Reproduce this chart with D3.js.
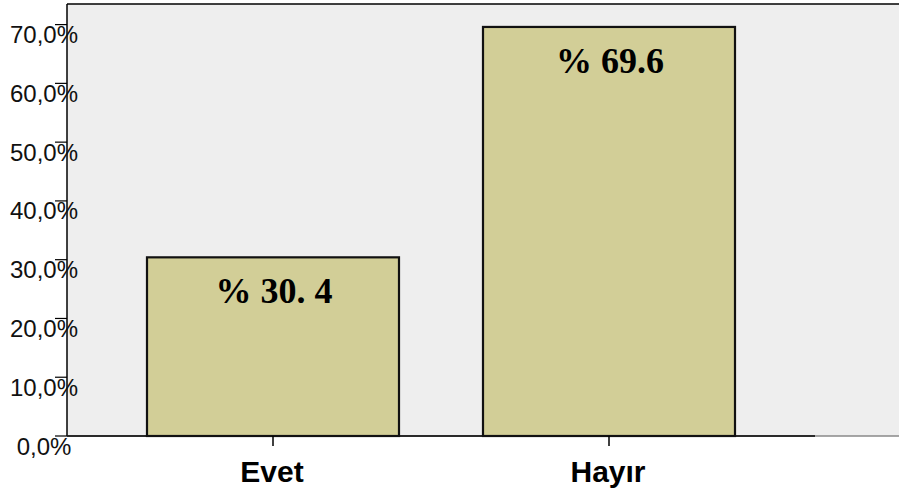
<!DOCTYPE html>
<html>
<head>
<meta charset="utf-8">
<script src="https://cdnjs.cloudflare.com/ajax/libs/d3/7.8.5/d3.min.js"></script>
<style>
body { margin: 0; background: #fff; }
</style>
</head>
<body>
<div id="viz"></div>
<script>
var categories = ["Evet", "Hayır"];
var values = [30.4, 69.6];
var barLabels = ["% 30. 4", "% 69.6"];
var yTicks = [0, 10, 20, 30, 40, 50, 60, 70];

var width = 899, height = 491;
var plotLeft = 67, plotTop = 4, plotBottom = 436;

var svg = d3.select("#viz")
    .append("svg")
    .attr("width", width)
    .attr("height", height);

var x = d3.scaleBand()
    .domain(categories)
    .range([105, 777])
    .paddingInner(0.25)
    .paddingOuter(0.125);

var y = d3.scaleLinear()
    .domain([0, 70])
    .range([plotBottom, 24.6]);

var fmt = d3.formatLocale({decimal: ",", thousands: ".", grouping: [3], currency: ["", ""]}).format(".1f");

// plot background
svg.append("rect")
    .attr("x", plotLeft)
    .attr("y", plotTop)
    .attr("width", width - plotLeft + 10)
    .attr("height", plotBottom - plotTop)
    .style("fill", "#eeeeee");

// frame top and left
svg.append("line")
    .attr("x1", plotLeft).attr("x2", width)
    .attr("y1", plotTop).attr("y2", plotTop)
    .style("stroke", "#000").style("stroke-width", 1.5);
svg.append("line")
    .attr("x1", plotLeft).attr("x2", plotLeft)
    .attr("y1", plotTop).attr("y2", plotBottom)
    .style("stroke", "#000").style("stroke-width", 1.5);

// bottom: light part then dark axis
svg.append("line")
    .attr("x1", plotLeft).attr("x2", width)
    .attr("y1", plotBottom).attr("y2", plotBottom)
    .style("stroke", "#888").style("stroke-width", 1.5);
svg.append("line")
    .attr("x1", plotLeft).attr("x2", 815)
    .attr("y1", plotBottom).attr("y2", plotBottom)
    .style("stroke", "#000").style("stroke-width", 1.5);

// bars
svg.selectAll("rect.bar")
    .data(values)
    .enter().append("rect")
    .attr("class", "bar")
    .attr("x", function(d, i){ return x(categories[i]); })
    .attr("y", function(d){ return y(d); })
    .attr("width", x.bandwidth())
    .attr("height", function(d){ return plotBottom - y(d); })
    .style("fill", "#d2ce97")
    .style("stroke", "#111")
    .style("stroke-width", 2.2);

// value labels inside bars
svg.selectAll("text.val")
    .data(values)
    .enter().append("text")
    .attr("class", "val")
    .attr("x", function(d, i){ return x(categories[i]) + x.bandwidth() / 2 + 1; })
    .attr("y", function(d){ return y(d) + 46; })
    .attr("text-anchor", "middle")
    .style("font-family", "'Liberation Serif', 'Times New Roman', serif")
    .style("font-weight", "bold")
    .style("font-size", "36px")
    .text(function(d, i){ return barLabels[i]; });

// y ticks and labels
svg.selectAll("line.ytick")
    .data(yTicks)
    .enter().append("line")
    .attr("x1", 55).attr("x2", plotLeft)
    .attr("y1", function(d){ return y(d); })
    .attr("y2", function(d){ return y(d); })
    .style("stroke", "#000").style("stroke-width", 1.2);

svg.selectAll("text.ylab")
    .data(yTicks)
    .enter().append("text")
    .attr("x", 44)
    .attr("y", function(d){ return y(d) + 18.5; })
    .attr("text-anchor", "middle")
    .style("font-family", "'Liberation Sans', Arial, sans-serif")
    .style("font-size", "24px")
    .style("fill", "#111")
    .text(function(d){ return fmt(d) + "%"; });

// x ticks and labels
svg.selectAll("line.xtick")
    .data(categories)
    .enter().append("line")
    .attr("x1", function(d){ return x(d) + x.bandwidth() / 2; })
    .attr("x2", function(d){ return x(d) + x.bandwidth() / 2; })
    .attr("y1", plotBottom).attr("y2", plotBottom + 10)
    .style("stroke", "#000").style("stroke-width", 1.5);

svg.selectAll("text.xlab")
    .data(categories)
    .enter().append("text")
    .attr("x", function(d){ return x(d) + x.bandwidth() / 2 - 1; })
    .attr("y", 482)
    .attr("text-anchor", "middle")
    .style("font-family", "'Liberation Sans', Arial, sans-serif")
    .style("font-weight", "bold")
    .style("font-size", "30px")
    .text(function(d){ return d; });
</script>
</body>
</html>
